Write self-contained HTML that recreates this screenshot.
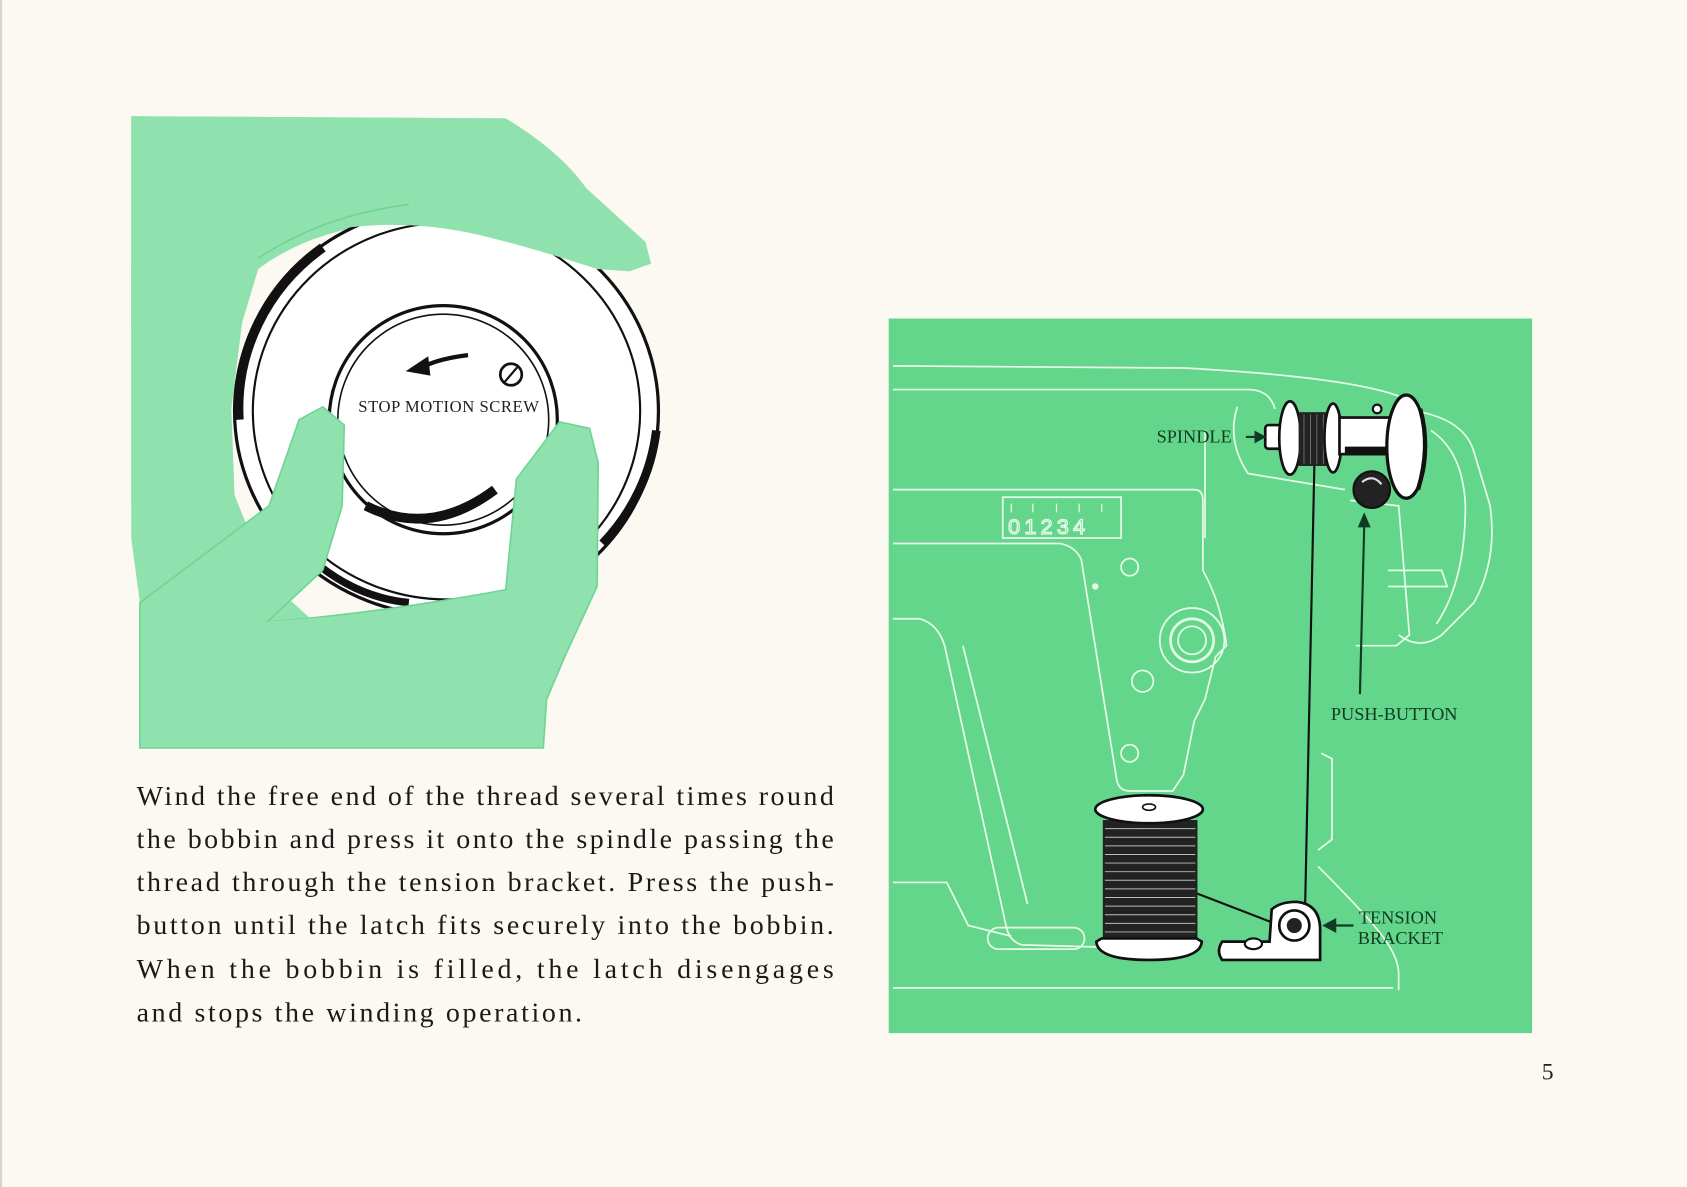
<!DOCTYPE html>
<html><head><meta charset="utf-8"><style>
html,body{margin:0;padding:0;background:#fbf9f1;}
svg{display:block}
</style></head><body>
<svg width="1687" height="1187" viewBox="0 0 1568 1103" preserveAspectRatio="none" xmlns="http://www.w3.org/2000/svg">
<rect width="1568" height="1103" fill="#fbf9f1"/>
<line x1="1" y1="0" x2="1" y2="1103" stroke="#d8d4c8" stroke-width="2"/>

<!-- LEFT ILLUSTRATION -->
<g>
<path d="M122,108 L470,110 Q520,140 545,175 L600,225 L605,245 L585,252 L555,250 Q500,232 460,222 L400,205 Q300,205 240,250 L225,300 L215,380 L218,460 L250,540 L300,585 L360,600 L430,595 L470,570 L480,445 L520,392 L548,398 L556,430 L555,545 L525,610 L508,650 L505,695 L130,695 L130,560 L122,500 Z" fill="#8fe2ad"/>
<ellipse cx="415" cy="382" rx="197" ry="190" fill="#fff" stroke="#111" stroke-width="3"/>
<path d="M222,390 A193,186 0 0 1 300,230" fill="none" stroke="#111" stroke-width="9"/>
<path d="M560,505 A193,186 0 0 0 610,400" fill="none" stroke="#111" stroke-width="8"/>
<ellipse cx="415" cy="382" rx="180" ry="175" fill="none" stroke="#111" stroke-width="2"/>
<circle cx="412" cy="390" r="106" fill="#fff" stroke="#111" stroke-width="3"/>
<circle cx="412" cy="390" r="98" fill="none" stroke="#111" stroke-width="1.5"/>
<path d="M340,470 Q400,500 460,455" fill="none" stroke="#111" stroke-width="9"/>
<path d="M290,520 Q330,555 380,560" fill="none" stroke="#111" stroke-width="7"/>
<circle cx="475" cy="348" r="10" fill="#fff" stroke="#111" stroke-width="2.5"/>
<line x1="469" y1="355" x2="481" y2="341" stroke="#111" stroke-width="2"/>
<path d="M435,330 Q410,333 395,340" fill="none" stroke="#111" stroke-width="4"/>
<polygon points="377,345 398,331 400,349" fill="#111"/>
<path d="M130,560 L250,470 L278,390 L300,378 L320,395 L318,470 L300,530 L248,578 Q350,570 470,548 L480,445 L520,392 L548,398 L556,430 L555,545 L525,610 L508,650 L505,695 L130,695 Z" fill="#8fe2ad" stroke="#6fd493" stroke-width="1.5"/>
<path d="M245,578 L300,600 Q380,610 470,560" fill="#8fe2ad"/>
<path d="M122,108 L470,110 Q520,140 545,175 L600,225 L605,245 L585,252 L555,250 Q500,232 460,222 Q380,200 300,215 Q250,230 235,255 L122,300 Z" fill="#8fe2ad"/>
<path d="M122,250 L230,250 L215,330 L205,420 L122,470 Z" fill="#8fe2ad"/>
<path d="M240,240 Q300,200 380,190" fill="none" stroke="#6fd493" stroke-width="1.5"/>
<text x="333" y="383" font-family="Liberation Serif, serif" font-size="15.5" fill="#222" letter-spacing="0.5">STOP MOTION SCREW</text>
</g>

<!-- PARAGRAPH -->
<g font-family="Liberation Serif, serif" font-size="26" fill="#1a1a1a">
<text x="127" y="748" textLength="648" lengthAdjust="spacing">Wind the free end of the thread several times round</text>
<text x="127" y="788" textLength="648" lengthAdjust="spacing">the bobbin and press it onto the spindle passing the</text>
<text x="127" y="828" textLength="648" lengthAdjust="spacing">thread through the tension bracket. Press the push-</text>
<text x="127" y="868" textLength="648" lengthAdjust="spacing">button until the latch fits securely into the bobbin.</text>
<text x="127" y="909" textLength="648" lengthAdjust="spacing">When the bobbin is filled, the latch disengages</text>
<text x="127" y="949" textLength="414" lengthAdjust="spacing">and stops the winding operation.</text>
</g>
<text x="1433" y="1003" font-family="Liberation Serif, serif" font-size="22" fill="#222">5</text>

<!-- RIGHT BOX -->
<rect x="826" y="296" width="598" height="664" fill="#63d68c"/>
<g fill="none" stroke="#e8fbe9" stroke-width="1.6">
<path d="M830,340 L1100,342 Q1250,350 1300,368"/>
<path d="M830,362 L1160,362 Q1180,362 1185,380"/>
<path d="M1150,378 Q1140,410 1160,440 L1250,455"/>
<path d="M830,455 L1110,455 Q1118,455 1118,465 L1118,530 Q1135,560 1140,600 L1130,610 L1120,650 L1110,670 L1100,720 L1090,735 L1050,735 Q1040,735 1038,725 L1005,520 Q1000,508 985,505 L830,505"/>
<path d="M830,575 L855,575 Q872,580 878,600 L935,860 Q938,875 950,878 L1020,880"/>
<path d="M895,600 L955,840"/>
<path d="M830,820 L880,820 L900,860 L940,870"/>
<path d="M1228,700 L1238,705 L1238,780 L1225,790"/>
<path d="M1225,805 Q1270,850 1285,870 Q1300,890 1300,905 L1300,920"/>
<path d="M830,918 L1295,918"/>
<path d="M1300,380 Q1360,385 1370,420 L1385,470 Q1392,520 1370,560 L1340,590 Q1320,605 1300,590"/>
<path d="M1255,465 L1300,470 L1310,590 L1298,600 L1260,600"/>
<path d="M1330,400 Q1360,420 1362,470 Q1362,540 1335,580"/>
<path d="M1290,530 L1340,530 L1345,545 L1290,545"/>
<rect x="918" y="862" width="90" height="20" rx="10"/>
<circle cx="1108" cy="595" r="30"/><circle cx="1108" cy="595" r="20" stroke-width="2.5"/><circle cx="1108" cy="595" r="13"/>
<circle cx="1050" cy="527" r="8"/><circle cx="1062" cy="633" r="10"/><circle cx="1050" cy="700" r="8"/>
<rect x="932" y="462" width="110" height="38"/>
<line x1="1120" y1="400" x2="1120" y2="500"/>
</g>
<circle cx="1018" cy="545" r="3" fill="#e8fbe9"/>
<text x="937" y="496" font-family="Liberation Sans, sans-serif" font-size="20" fill="none" stroke="#e8fbe9" stroke-width="1.2" letter-spacing="4">01234</text>
<g stroke="#e8fbe9" stroke-width="1.2"><line x1="940" y1="468" x2="940" y2="476"/><line x1="960" y1="468" x2="960" y2="476"/><line x1="982" y1="468" x2="982" y2="476"/><line x1="1003" y1="468" x2="1003" y2="476"/><line x1="1024" y1="468" x2="1024" y2="476"/></g>

<line x1="1222" y1="415" x2="1213" y2="845" stroke="#111" stroke-width="2"/>
<line x1="1112" y1="830" x2="1195" y2="862" stroke="#111" stroke-width="2"/>
<line x1="1035" y1="785" x2="1110" y2="830" stroke="#333" stroke-width="1.5"/>

<rect x="1176" y="395" width="18" height="22" rx="3" fill="#fff" stroke="#111" stroke-width="2.5"/>
<ellipse cx="1199" cy="407" rx="10" ry="34" fill="#fff" stroke="#111" stroke-width="2.5"/>
<rect x="1207" y="383" width="30" height="50" fill="#222"/>
<g stroke="#777" stroke-width="0.8"><line x1="1212" y1="385" x2="1212" y2="431"/><line x1="1218" y1="385" x2="1218" y2="431"/><line x1="1224" y1="385" x2="1224" y2="431"/><line x1="1230" y1="385" x2="1230" y2="431"/></g>
<ellipse cx="1239" cy="407" rx="8" ry="32" fill="#fff" stroke="#111" stroke-width="2.5"/>
<rect x="1245" y="388" width="55" height="34" fill="#fff" stroke="#111" stroke-width="2.5"/>
<path d="M1250,415 L1295,415 L1295,422 L1250,422Z" fill="#111"/>
<ellipse cx="1307" cy="415" rx="18" ry="48" fill="#fff" stroke="#111" stroke-width="3"/>
<path d="M1320,380 Q1330,415 1318,455" fill="none" stroke="#111" stroke-width="4"/>
<circle cx="1275" cy="455" r="17" fill="#222" stroke="#111" stroke-width="2"/>
<path d="M1266,448 Q1276,440 1284,450" fill="none" stroke="#ddd" stroke-width="2"/>
<circle cx="1280" cy="380" r="4" fill="#fff" stroke="#111" stroke-width="2"/>

<rect x="1025" y="762" width="88" height="116" fill="#222"/>
<g stroke="#bbb" stroke-width="0.9">
<line x1="1027" y1="770" x2="1111" y2="770"/><line x1="1027" y1="778" x2="1111" y2="778"/><line x1="1027" y1="786" x2="1111" y2="786"/><line x1="1027" y1="794" x2="1111" y2="794"/><line x1="1027" y1="802" x2="1111" y2="802"/><line x1="1027" y1="810" x2="1111" y2="810"/><line x1="1027" y1="818" x2="1111" y2="818"/><line x1="1027" y1="826" x2="1111" y2="826"/><line x1="1027" y1="834" x2="1111" y2="834"/><line x1="1027" y1="842" x2="1111" y2="842"/><line x1="1027" y1="850" x2="1111" y2="850"/><line x1="1027" y1="858" x2="1111" y2="858"/><line x1="1027" y1="866" x2="1111" y2="866"/></g>
<ellipse cx="1068" cy="752" rx="50" ry="13" fill="#fff" stroke="#111" stroke-width="2.5"/>
<ellipse cx="1068" cy="750" rx="6" ry="3" fill="#fff" stroke="#111" stroke-width="1.5"/>
<path d="M1019,875 Q1020,892 1068,892 Q1116,892 1117,875 L1112,872 L1024,872 Z" fill="#fff" stroke="#111" stroke-width="2.5"/>

<path d="M1136,875 L1180,875 L1182,845 Q1190,838 1205,838 Q1226,840 1227,862 L1227,892 L1136,892 Q1130,884 1136,875Z" fill="#fff" stroke="#111" stroke-width="2.5"/>
<circle cx="1203" cy="860" r="14" fill="#fff" stroke="#111" stroke-width="2.5"/>
<circle cx="1203" cy="860" r="7" fill="#222"/>
<ellipse cx="1165" cy="877" rx="8" ry="5" fill="#fff" stroke="#111" stroke-width="2"/>

<g font-family="Liberation Serif, serif" font-size="17" fill="#0f3b22">
<text x="1075" y="411">SPINDLE</text>
<text x="1237" y="669">PUSH-BUTTON</text>
<text x="1263" y="858">TENSION</text>
<text x="1262" y="877">BRACKET</text>
</g>
<line x1="1158" y1="406" x2="1168" y2="406" stroke="#0f3b22" stroke-width="2"/>
<polygon points="1177,406 1166,400 1166,412" fill="#0f3b22"/>
<line x1="1264" y1="645" x2="1268" y2="488" stroke="#0f3b22" stroke-width="2"/>
<polygon points="1268,476 1262,490 1274,490" fill="#0f3b22"/>
<line x1="1240" y1="860" x2="1258" y2="860" stroke="#0f3b22" stroke-width="2"/>
<polygon points="1229,860 1242,853 1242,867" fill="#0f3b22"/>
</svg>
</body></html>
